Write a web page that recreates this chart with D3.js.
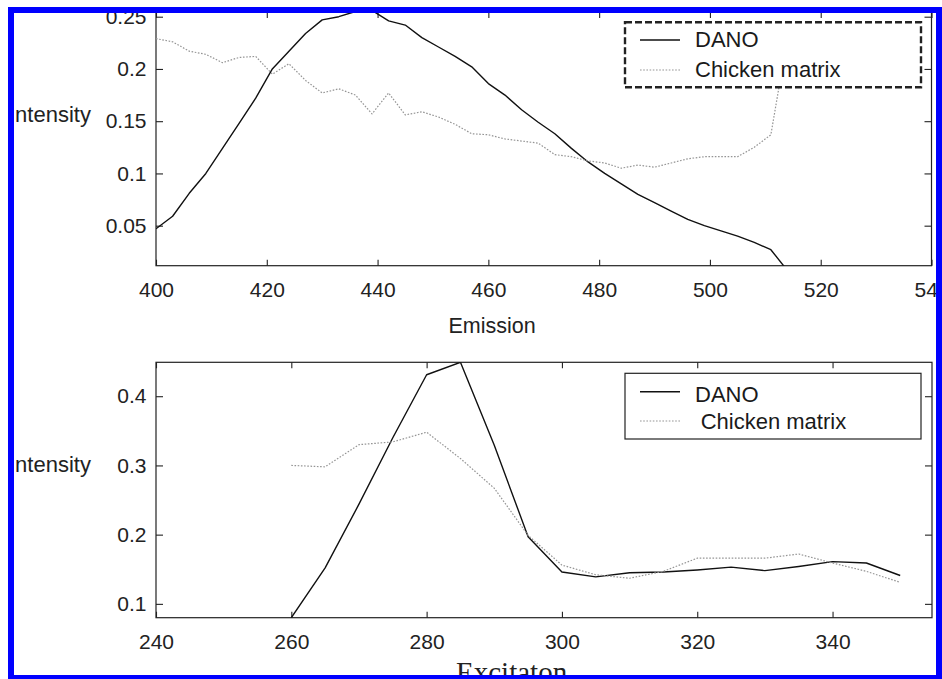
<!DOCTYPE html>
<html>
<head>
<meta charset="utf-8">
<script src="https://cdn.jsdelivr.net/npm/d3@7"></script>
<style>
  body { margin: 0; background: #fff; }
  svg { display: block; }
</style>
</head>
<body>
<div id="chart"></div>
<script>
// top panel: emission spectrum
const emission = [400, 403, 406, 409, 412, 415, 418, 421, 424, 427, 430, 433, 436, 439, 442, 445, 448, 451, 454, 457,
    460, 463, 466, 469, 472, 475, 478, 481, 484, 487, 490, 493, 496, 499, 502, 505, 508, 511, 514];
const emissionDano = [0.047, 0.059, 0.081, 0.100, 0.124, 0.148, 0.172, 0.200, 0.217, 0.234, 0.247, 0.250, 0.255, 0.256,
    0.246, 0.242, 0.230, 0.221, 0.212, 0.202, 0.186, 0.175, 0.161, 0.149, 0.138, 0.124, 0.111, 0.100, 0.090, 0.080,
    0.072, 0.064, 0.056, 0.050, 0.045, 0.040, 0.034, 0.027, 0.007];
const emissionChicken = [0.229, 0.226, 0.217, 0.214, 0.206, 0.211, 0.212, 0.195, 0.205, 0.189, 0.177, 0.181, 0.175, 0.157,
    0.177, 0.156, 0.159, 0.154, 0.147, 0.138, 0.137, 0.133, 0.131, 0.129, 0.118, 0.116, 0.112, 0.110, 0.105, 0.108,
    0.106, 0.110, 0.114, 0.116, 0.116, 0.116, 0.125, 0.137, 0.230];
const emissionXTicks = [400, 420, 440, 460, 480, 500, 520, 540];
const emissionYTicks = [0.05, 0.1, 0.15, 0.2, 0.25];

// bottom panel: excitation spectrum
const excitation = [260, 265, 270, 275, 280, 285, 290, 295, 300, 305, 310, 315, 320, 325, 330, 335, 340, 345, 350];
const excitationDano = [0.080, 0.152, 0.244, 0.340, 0.431, 0.449, 0.329, 0.197, 0.146, 0.139, 0.145, 0.146, 0.149,
    0.153, 0.148, 0.154, 0.161, 0.159, 0.141];
const excitationChicken = [0.300, 0.298, 0.330, 0.334, 0.348, 0.310, 0.267, 0.199, 0.156, 0.142, 0.137, 0.147, 0.166,
    0.166, 0.166, 0.172, 0.159, 0.147, 0.131];
const excitationXTicks = [240, 260, 280, 300, 320, 340];
const excitationYTicks = [0.1, 0.2, 0.3, 0.4];

const seriesNames = ['DANO', 'Chicken matrix'];

const width = 942;
const height = 679;
const sans = '"Liberation Sans", Arial, Helvetica, sans-serif';
const serif = '"Liberation Serif", "Times New Roman", serif';
const lineStyles = [
    {stroke: '#111', width: 1.4, dash: null},
    {stroke: '#959595', width: 1.2, dash: '1.6,1.6'}
];

const svg = d3.select('#chart')
    .append('svg')
    .attr('width', width)
    .attr('height', height);

svg.append('rect').attr('width', width).attr('height', height).attr('fill', '#fff');

drawPanel({
    id: 'em',
    left: 156, right: 931.5, top: 12, bottom: 265.7,
    xDomain: [400, 540], yDomain: [0.0117, 0.2545],
    xTicks: emissionXTicks, yTicks: emissionYTicks,
    xs: emission, series: [emissionDano, emissionChicken],
    legend: {x: 625, y: 22.3, w: 296, h: 65, dashed: true,
        rows: [{ly: 40, ty: 46.7, tx: 695}, {ly: 70, ty: 77.3, tx: 695}]},
    yLabelY: 121.7
});

drawPanel({
    id: 'ex',
    left: 156, right: 932, top: 362.3, bottom: 617.7,
    xDomain: [240, 354.7], yDomain: [0.08, 0.449],
    xTicks: excitationXTicks, yTicks: excitationYTicks,
    xs: excitation, series: [excitationDano, excitationChicken],
    legend: {x: 625, y: 373.3, w: 296, h: 65.7, dashed: false,
        rows: [{ly: 391.7, ty: 401.7, tx: 695}, {ly: 421, ty: 429.3, tx: 700.7}]},
    yLabelY: 471.7
});

// axis titles
svg.append('text')
    .attr('x', 492).attr('y', 333)
    .attr('text-anchor', 'middle')
    .style('font-family', sans).style('font-size', '21.5px').attr('fill', '#222')
    .text('Emission');

svg.append('text')
    .attr('x', 456).attr('y', 682)
    .style('font-family', serif).style('font-size', '29px').attr('fill', '#222')
    .text('Excitaton');

// blue frame round the scanned figure
svg.append('rect')
    .attr('x', 11).attr('y', 10)
    .attr('width', 928).attr('height', 668)
    .attr('fill', 'none')
    .attr('stroke', '#0000ff')
    .attr('stroke-width', 6);

function drawPanel(p) {
    const x = d3.scaleLinear().domain(p.xDomain).range([p.left, p.right]);
    const y = d3.scaleLinear().domain(p.yDomain).range([p.bottom, p.top]);
    const g = svg.append('g');

    g.append('clipPath').attr('id', 'clip-' + p.id)
        .append('rect')
        .attr('x', p.left).attr('y', p.top)
        .attr('width', p.right - p.left).attr('height', p.bottom - p.top);

    var styleAxis = a => a
        .attr('font-size', 21)
        .attr('font-family', sans)
        .call(s => s.select('.domain').remove())
        .call(s => s.selectAll('line').attr('stroke', '#222').attr('stroke-width', 1.1))
        .call(s => s.selectAll('text').attr('fill', '#222'));

    g.append('g')
        .attr('transform', 'translate(0,' + p.bottom + ')')
        .call(d3.axisBottom(x).tickValues(p.xTicks).tickSize(-6).tickPadding(16).tickFormat(d3.format('d')))
        .call(styleAxis);
    g.append('g')
        .attr('transform', 'translate(0,' + p.top + ')')
        .call(d3.axisTop(x).tickValues(p.xTicks).tickSize(-6).tickFormat(''))
        .call(styleAxis);
    g.append('g')
        .attr('transform', 'translate(' + p.left + ',0)')
        .call(d3.axisLeft(y).tickValues(p.yTicks).tickSize(-7).tickPadding(9.5).tickFormat(d => String(d)))
        .call(styleAxis);
    g.append('g')
        .attr('transform', 'translate(' + p.right + ',0)')
        .call(d3.axisRight(y).tickValues(p.yTicks).tickSize(-7).tickFormat(''))
        .call(styleAxis);

    g.append('rect')
        .attr('x', p.left).attr('y', p.top)
        .attr('width', p.right - p.left).attr('height', p.bottom - p.top)
        .attr('fill', 'none').attr('stroke', '#222').attr('stroke-width', 1.2);

    const line = d3.line()
        .x((d, i) => x(p.xs[i]))
        .y(d => y(d));

    p.series.forEach((vals, i) => {
        const st = lineStyles[i];
        g.append('path')
            .datum(vals)
            .attr('clip-path', 'url(#clip-' + p.id + ')')
            .attr('fill', 'none')
            .attr('stroke', st.stroke)
            .attr('stroke-width', st.width)
            .attr('stroke-dasharray', st.dash)
            .attr('stroke-linejoin', 'round')
            .attr('d', line);
    });

    // legend
    const L = p.legend;
    g.append('rect')
        .attr('x', L.x).attr('y', L.y).attr('width', L.w).attr('height', L.h)
        .attr('fill', '#fff')
        .attr('stroke', '#222')
        .attr('stroke-width', L.dashed ? 2.4 : 1.2)
        .attr('stroke-dasharray', L.dashed ? '7,3' : null);

    L.rows.forEach((r, i) => {
        const st = lineStyles[i];
        g.append('line')
            .attr('x1', 640).attr('x2', 680).attr('y1', r.ly).attr('y2', r.ly)
            .attr('stroke', st.stroke).attr('stroke-width', st.width)
            .attr('stroke-dasharray', st.dash);
        g.append('text')
            .attr('x', r.tx).attr('y', r.ty)
            .style('font-family', sans).style('font-size', '22px').attr('fill', '#1a1a1a')
            .text(seriesNames[i]);
    });

    // y label, its first letter sits under the blue frame
    g.append('text')
        .attr('x', 9).attr('y', p.yLabelY)
        .style('font-family', sans).style('font-size', '22px').attr('fill', '#222')
        .text('Intensity');
}
</script>
</body>
</html>
